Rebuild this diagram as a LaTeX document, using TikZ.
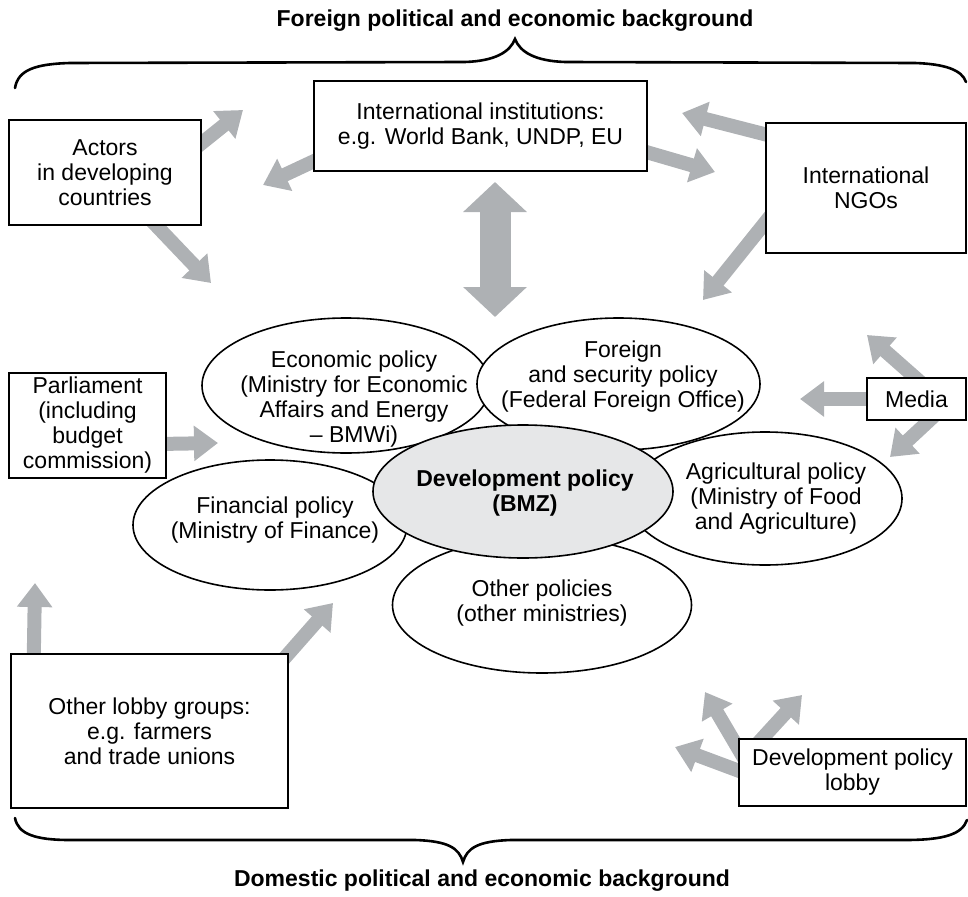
\documentclass[tikz,border=0pt]{standalone}
\usepackage{fontspec}
\setmainfont{Liberation Sans}
\usepackage{tikz}
\usetikzlibrary{arrows.meta,shapes.geometric,backgrounds}
\definecolor{arrowgray}{HTML}{AEB1B4}
\definecolor{corefill}{HTML}{E6E7E8}

\begin{document}
\begin{tikzpicture}[x=1pt,y=-1pt,font=\fontsize{23}{25}\selectfont,
  box/.style={draw,line width=2pt,fill=white,inner sep=0pt,align=center},
  pol/.style={draw,ellipse,line width=1.6pt,fill=white,inner sep=0pt},
  poltext/.style={align=center,inner sep=0pt},
  garrow/.style={draw=arrowgray,line width=14pt,-{Triangle[length=24pt,width=34pt]},shorten <=-12pt},
  brace/.style={line width=2.6pt,line cap=round}]
\useasboundingbox (0,0) rectangle (968,896);

% titles
\node[font=\fontsize{23}{25}\selectfont\bfseries] (ftitle) at (515,21) {Foreign political and economic background};
\node[font=\fontsize{23}{25}\selectfont\bfseries] (dtitle) at (482,881) {Domestic political and economic background};

% actors (boxes)
\node[box,minimum width=333pt,minimum height=90pt] (intl) at (480.5,126) {International institutions:\\e.g. World Bank, UNDP, EU};
\node[box,minimum width=192pt,minimum height=105pt] (actors) at (105,172.5) {Actors\\in developing\\countries};
\node[box,minimum width=200pt,minimum height=130pt] (ngo) at (866,188) {International\\NGOs};
\node[box,minimum width=157pt,minimum height=105pt] (parl) at (87.5,425.5) {Parliament\\(including\\budget\\commission)};
\node[box,minimum width=99pt,minimum height=42pt] (media) at (916.5,399) {Media};
\node[box,minimum width=277pt,minimum height=154pt] (olobby) at (149.5,731) {Other lobby groups:\\e.g. farmers\\and trade unions};
\node[box,minimum width=227pt,minimum height=67pt] (dlobby) at (852.5,772.5) {Development policy\\lobby};

% policy fields (ellipses, back to front)
\foreach \id/\x/\y/\w/\h in {econ/346/385.5/288/135,fin/270/525/274/130,other/542/605/299/136,agri/765/498.5/274/133,fore/618.5/384/283/132}
  \node[pol,minimum width=\w pt,minimum height=\h pt] (\id) at (\x,\y) {};
\node[pol,fill=corefill,minimum width=300pt,minimum height=133pt] (bmz) at (523,491.5) {};

\node[poltext] (econt) at (354,399) {Economic policy\\(Ministry for Economic\\Affairs and Energy\\– BMWi)};
\node[poltext] (foret) at (623,377) {Foreign\\and security policy\\(Federal Foreign Office)};
\node[poltext] (agrit) at (776,499) {Agricultural policy\\(Ministry of Food\\and Agriculture)};
\node[poltext] (fint) at (275,520) {Financial policy\\(Ministry of Finance)};
\node[poltext] (othert) at (542,603) {Other policies\\(other ministries)};
\node[poltext,font=\fontsize{23}{25}\selectfont\bfseries] (bmzt) at (525,493) {Development policy\\(BMZ)};

% arrow tips
\coordinate (a1) at (243,110);
\coordinate (a2) at (263,185);
\coordinate (a3) at (211,283);
\coordinate (a5) at (682,113);
\coordinate (a6) at (715,172);
\coordinate (a7) at (703,300);
\coordinate (a8) at (218,443);
\coordinate (a9) at (800,399);
\coordinate (a10) at (867,335);
\coordinate (a11) at (890,457);
\coordinate (a12) at (35,583);
\coordinate (a13) at (333,603);
\coordinate (a14) at (675,747);
\coordinate (a15) at (705,692);
\coordinate (a16) at (802,695);
\coordinate (dtop) at (495,182);
\coordinate (dbot) at (495,317);

\begin{scope}[on background layer]
\foreach \s/\t in {actors.17/a1,intl.192/a2,actors.-46/a3,ngo.152/a5,intl.-9/a6,ngo.199/a7,parl.-13/a8,media.west/a9,media.95/a10,media.-61/a11,olobby.146/a12,olobby.north east/a13,dlobby.179/a14,dlobby.168/a15,dlobby.159/a16}
  \draw[garrow] (\s) -- (\t);
\draw[draw=arrowgray,line width=31pt,{Triangle[length=30pt,width=62pt]}-{Triangle[length=30pt,width=62pt]}] (dtop) -- (dbot);
\end{scope}

% braces
\draw[brace] (15,88) .. controls (18,70) and (35,64) .. (70,63) -- (465,62) .. controls (495,61) and (510,52) .. (515,39) .. controls (520,52) and (535,61) .. (565,62) -- (915,63) .. controls (945,64) and (962,70) .. (966,82);
\draw[brace] (15,818) .. controls (18,834) and (35,840) .. (70,840) -- (415,840) .. controls (448,841) and (459,848) .. (463,862) .. controls (467,848) and (478,841) .. (511,840) -- (905,840) .. controls (945,840) and (962,834) .. (967,820);
\end{tikzpicture}
\end{document}
